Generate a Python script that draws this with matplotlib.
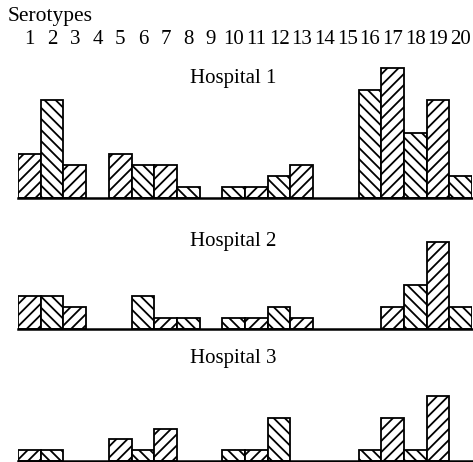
import matplotlib
matplotlib.use("Agg")
import matplotlib.pyplot as plt
import numpy as np

# serotype counts per hospital
serotypes = list(range(1, 21))
hospital_1 = [4, 9, 3, 0, 4, 3, 3, 1, 0, 1, 1, 2, 3, 0, 0, 10, 12, 6, 9, 2]
hospital_2 = [3, 3, 2, 0, 0, 3, 1, 1, 0, 1, 1, 2, 1, 0, 0, 0, 2, 4, 8, 2]
hospital_3 = [1, 1, 0, 0, 2, 1, 3, 0, 0, 1, 1, 4, 0, 0, 0, 1, 4, 1, 6, 0]
panel_titles = ["Hospital 1", "Hospital 2", "Hospital 3"]

plt.rcParams['font.family'] = ['Liberation Serif', 'DejaVu Serif']
plt.rcParams['hatch.linewidth'] = 1.3

W, H = 473, 462
fig = plt.figure(figsize=(W / 100, H / 100), dpi=100)

unit_px = 10.8
ymax = 12.6
left_px, right_px = 18, 472
baselines_px = [197.5, 328.5, 461]
title_y_px = [78, 241, 358]

# hatch direction alternates with serotype number
hatches = ['///' if s % 2 == 1 else '\\\\\\' for s in serotypes]

for data, base, title, ty in zip([hospital_1, hospital_2, hospital_3],
                                 baselines_px, panel_titles, title_y_px):
    ax = fig.add_axes([left_px / W, (H - base) / H,
                       (right_px - left_px) / W, ymax * unit_px / H])
    ax.set_xlim(0.5, 20.5)
    ax.set_ylim(0, ymax)
    ax.patch.set_visible(False)
    for s, v, h in zip(serotypes, data, hatches):
        if v > 0:
            ax.bar(s, v, width=1.0, color='white', edgecolor='black',
                   hatch=h, linewidth=1.3, zorder=2)
    ax.axhline(0, color='black', linewidth=1.8, zorder=3, clip_on=False)
    for sp in ax.spines.values():
        sp.set_visible(False)
    ax.set_xticks([])
    ax.set_yticks([])
    fig.text(((10 - 0.5) * (right_px - left_px) / 20 + left_px) / W, 1 - ty / H,
             title, ha='center', va='center', fontsize=15)

fig.text(8 / W, 1 - 16 / H, "Serotypes", ha='left', va='center', fontsize=15.5)
for s in serotypes:
    xs = ((s - 0.5) * (right_px - left_px) / 20 + left_px) / W
    fig.text(xs, 1 - 40 / H, str(s), ha='center', va='center', fontsize=15)

fig.savefig("out.png", dpi=100)
